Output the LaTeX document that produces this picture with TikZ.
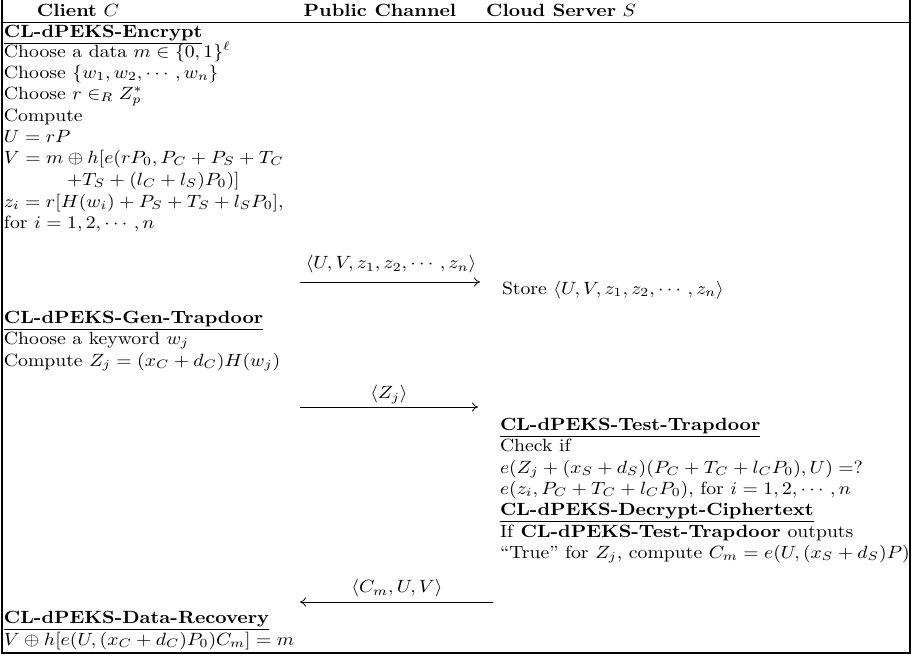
\documentclass[tikz,border=0pt]{standalone}
\usepackage{amsmath,amssymb}
\usepackage{graphicx}
\usetikzlibrary{arrows.meta}
% text is set slightly condensed in height
\newcommand{\sq}[1]{\scalebox{1}[0.9]{#1}}
\begin{document}
\begin{tikzpicture}[x=0.508pt,y=-0.508pt,
  txt/.style={anchor=base west,inner sep=0pt,outer sep=0pt,font=\normalsize},
  hdr/.style={anchor=base,inner sep=0pt,outer sep=0pt},
  lbl/.style={anchor=base,inner sep=0pt,outer sep=0pt},
  frame/.style={line width=0.6pt},
  msg/.style={line width=0.4pt,-{To[length=3pt,width=4.5pt]}}]
\useasboundingbox (0,0) rectangle (913,656);

% frame and header rule
\coordinate (tl) at (2,0);
\coordinate (tr) at (910,0);
\coordinate (bl) at (2,653);
\coordinate (br) at (910,653);
\coordinate (hl) at (2,22.5);
\coordinate (hr) at (910,22.5);
\draw[frame] (tl) -- (bl) -- (br) -- (tr);
\draw[frame] (hl) -- (hr);

% column headings
\node[hdr] (hC) at (78,16) {\sq{\textbf{Client} $C$}};
\node[hdr] (hP) at (380,16) {\sq{\textbf{Public Channel}}};
\node[hdr] (hS) at (561,16) {\sq{\textbf{Cloud Server} $S$}};

% client: encryption
\node[txt] (enc) at (4,37) {\sq{\underline{\textbf{CL-dPEKS-Encrypt}}}};
\node[txt] (e1) at (4,57) {\sq{Choose a data $m \in \{0,1\}^\ell$}};
\node[txt] (e2) at (4,78) {\sq{Choose $\{w_1, w_2, \cdots, w_n\}$}};
\node[txt] (e3) at (4,99) {\sq{Choose $r \in_R Z_p^*$}};
\node[txt] (e4) at (4,121) {\sq{Compute}};
\node[txt] (e5) at (4,142) {\sq{$U = rP$}};
\node[txt] (e6) at (4,163) {\sq{$V = m \oplus h[e(rP_0, P_C + P_S + T_C$}};
\node[txt] (e7) at (67,185) {\sq{$+T_S + (l_C + l_S)P_0)]$}};
\node[txt] (e8) at (4,207) {\sq{$z_i = r[H(w_i) + P_S + T_S + l_S P_0]$,}};
\node[txt] (e9) at (4,228) {\sq{for $i = 1, 2, \cdots, n$}};

% first message
\coordinate (m1a) at (300,282);
\coordinate (m1b) at (480,282);
\draw[msg] (m1a) -- (m1b);
\node[lbl] (m1) at (391,268.5) {\sq{$\langle U, V, z_1, z_2, \cdots, z_n\rangle$}};

% server: store
\node[txt] (st) at (502,294) {\sq{Store $\langle U, V, z_1, z_2, \cdots, z_n\rangle$}};

% client: trapdoor
\node[txt] (gen) at (4,323) {\sq{\underline{\textbf{CL-dPEKS-Gen-Trapdoor}}}};
\node[txt] (g1) at (4,344) {\sq{Choose a keyword $w_j$}};
\node[txt] (g2) at (4,366) {\sq{Compute $Z_j = (x_C + d_C)H(w_j)$}};

% second message
\coordinate (m2a) at (300,407);
\coordinate (m2b) at (478,407);
\draw[msg] (m2a) -- (m2b);
\node[lbl] (m2) at (389,398.5) {\sq{$\langle Z_j\rangle$}};

% server: test and decrypt
\node[txt] (tst) at (500,430) {\sq{\underline{\textbf{CL-dPEKS-Test-Trapdoor}}}};
\node[txt] (t1) at (500,451) {\sq{Check if}};
\node[txt] (t2) at (500,473) {\sq{$e(Z_j + (x_S + d_S)(P_C + T_C + l_C P_0), U) =?$}};
\node[txt] (t3) at (500,494) {\sq{$e(z_i, P_C + T_C + l_C P_0)$, for $i = 1, 2, \cdots, n$}};
\node[txt] (dec) at (500,515) {\sq{\underline{\textbf{CL-dPEKS-Decrypt-Ciphertext}}}};
\node[txt] (d1) at (500,537) {\sq{If \textbf{CL-dPEKS-Test-Trapdoor} outputs}};
\node[txt] (d2) at (500,558) {\sq{``True'' for $Z_j$, compute $C_m = e(U, (x_S + d_S)P)$}};

% third message
\coordinate (m3a) at (493,602);
\coordinate (m3b) at (300,602);
\draw[msg] (m3a) -- (m3b);
\node[lbl] (m3) at (397,592.5) {\sq{$\langle C_m, U, V\rangle$}};

% client: recovery
\node[txt] (rec) at (4,623) {\sq{\underline{\textbf{CL-dPEKS-Data-Recovery}}}};
\node[txt] (r1) at (4,645) {\sq{$V \oplus h[e(U, (x_C + d_C)P_0)C_m] = m$}};
\end{tikzpicture}
\end{document}
